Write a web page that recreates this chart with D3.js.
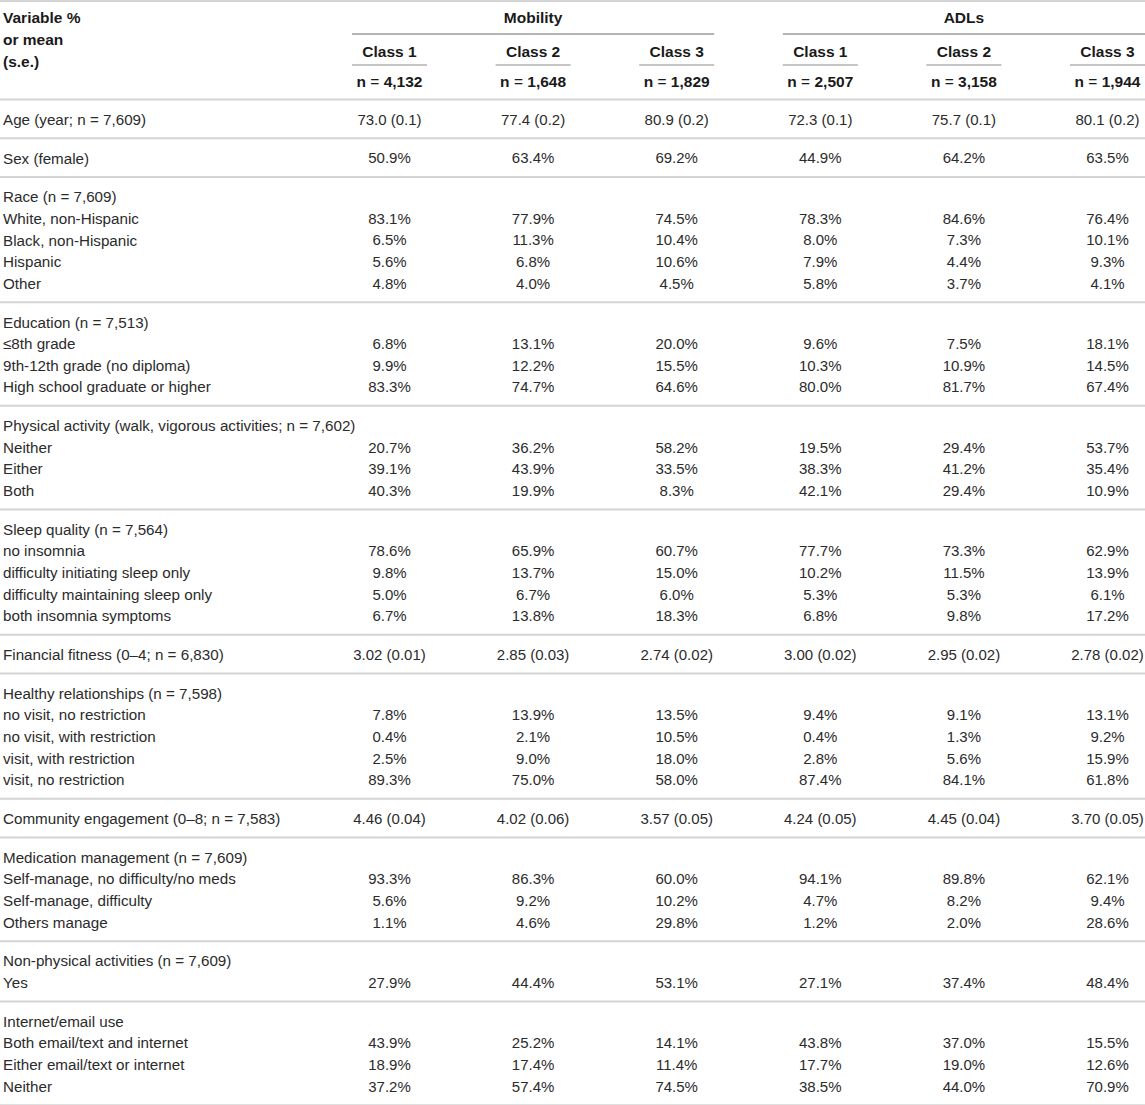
<!DOCTYPE html>
<html>
<head>
<meta charset="utf-8">
<script src="https://cdn.jsdelivr.net/npm/d3@7"></script>
<style>
  body { margin: 0; background: #fff; }
  svg text { font-family: "Liberation Sans", Arial, Helvetica, sans-serif; }
</style>
</head>
<body>
<div id="table"></div>
<script>
// header text
var stubHeader = ["Variable %", "or mean", "(s.e.)"];
var panels = ["Mobility", "ADLs"];
var classNames = ["Class 1", "Class 2", "Class 3"];
var classSizes = ["4,132", "1,648", "1,829", "2,507", "3,158", "1,944"];

// body rows: [label, Mobility c1, c2, c3, ADLs c1, c2, c3]; a row with only a label is a sub-heading
var age = [["Age (year; n = 7,609)", "73.0 (0.1)", "77.4 (0.2)", "80.9 (0.2)", "72.3 (0.1)", "75.7 (0.1)", "80.1 (0.2)"]];
var sex = [["Sex (female)", "50.9%", "63.4%", "69.2%", "44.9%", "64.2%", "63.5%"]];
var race = [
  ["Race (n = 7,609)"],
  ["White, non-Hispanic", "83.1%", "77.9%", "74.5%", "78.3%", "84.6%", "76.4%"],
  ["Black, non-Hispanic", "6.5%", "11.3%", "10.4%", "8.0%", "7.3%", "10.1%"],
  ["Hispanic", "5.6%", "6.8%", "10.6%", "7.9%", "4.4%", "9.3%"],
  ["Other", "4.8%", "4.0%", "4.5%", "5.8%", "3.7%", "4.1%"]
];
var education = [
  ["Education (n = 7,513)"],
  ["\u22648th grade", "6.8%", "13.1%", "20.0%", "9.6%", "7.5%", "18.1%"],
  ["9th-12th grade (no diploma)", "9.9%", "12.2%", "15.5%", "10.3%", "10.9%", "14.5%"],
  ["High school graduate or higher", "83.3%", "74.7%", "64.6%", "80.0%", "81.7%", "67.4%"]
];
var physical = [
  ["Physical activity (walk, vigorous activities; n = 7,602)"],
  ["Neither", "20.7%", "36.2%", "58.2%", "19.5%", "29.4%", "53.7%"],
  ["Either", "39.1%", "43.9%", "33.5%", "38.3%", "41.2%", "35.4%"],
  ["Both", "40.3%", "19.9%", "8.3%", "42.1%", "29.4%", "10.9%"]
];
var sleep = [
  ["Sleep quality (n = 7,564)"],
  ["no insomnia", "78.6%", "65.9%", "60.7%", "77.7%", "73.3%", "62.9%"],
  ["difficulty initiating sleep only", "9.8%", "13.7%", "15.0%", "10.2%", "11.5%", "13.9%"],
  ["difficulty maintaining sleep only", "5.0%", "6.7%", "6.0%", "5.3%", "5.3%", "6.1%"],
  ["both insomnia symptoms", "6.7%", "13.8%", "18.3%", "6.8%", "9.8%", "17.2%"]
];
var financial = [["Financial fitness (0\u20134; n = 6,830)", "3.02 (0.01)", "2.85 (0.03)", "2.74 (0.02)", "3.00 (0.02)", "2.95 (0.02)", "2.78 (0.02)"]];
var relationships = [
  ["Healthy relationships (n = 7,598)"],
  ["no visit, no restriction", "7.8%", "13.9%", "13.5%", "9.4%", "9.1%", "13.1%"],
  ["no visit, with restriction", "0.4%", "2.1%", "10.5%", "0.4%", "1.3%", "9.2%"],
  ["visit, with restriction", "2.5%", "9.0%", "18.0%", "2.8%", "5.6%", "15.9%"],
  ["visit, no restriction", "89.3%", "75.0%", "58.0%", "87.4%", "84.1%", "61.8%"]
];
var community = [["Community engagement (0\u20138; n = 7,583)", "4.46 (0.04)", "4.02 (0.06)", "3.57 (0.05)", "4.24 (0.05)", "4.45 (0.04)", "3.70 (0.05)"]];
var medication = [
  ["Medication management (n = 7,609)"],
  ["Self-manage, no difficulty/no meds", "93.3%", "86.3%", "60.0%", "94.1%", "89.8%", "62.1%"],
  ["Self-manage, difficulty", "5.6%", "9.2%", "10.2%", "4.7%", "8.2%", "9.4%"],
  ["Others manage", "1.1%", "4.6%", "29.8%", "1.2%", "2.0%", "28.6%"]
];
var nonPhysical = [
  ["Non-physical activities (n = 7,609)"],
  ["Yes", "27.9%", "44.4%", "53.1%", "27.1%", "37.4%", "48.4%"]
];
var internet = [
  ["Internet/email use"],
  ["Both email/text and internet", "43.9%", "25.2%", "14.1%", "43.8%", "37.0%", "15.5%"],
  ["Either email/text or internet", "18.9%", "17.4%", "11.4%", "17.7%", "19.0%", "12.6%"],
  ["Neither", "37.2%", "57.4%", "74.5%", "38.5%", "44.0%", "70.9%"]
];

var sections = [age, sex, race, education, physical, sleep, financial,
                relationships, community, medication, nonPhysical, internet];

// dimensions
var width = 1145, height = 1105;
var headerBottom = 99.5;
var rowStep = 21.65;   // spacing of lines inside a section
var padTop = 20, padBottom = 18.7;
var ruleColor = "#d4d4d4", textColor = "#2b2b2b";

// six value columns, evenly spaced
var x = d3.scaleLinear().domain([0, 5]).range([389.5, 1107.5]);
var halfRule = 37.5;

var svg = d3.select("#table").append("svg")
    .attr("width", width)
    .attr("height", height);

svg.append("rect").attr("width", width).attr("height", height).attr("fill", "#fff");

// top border
svg.append("line")
    .attr("x1", 0).attr("x2", width).attr("y1", 1).attr("y2", 1)
    .attr("stroke", ruleColor).attr("stroke-width", 2);

// ---- header ----
var head = svg.append("g").attr("font-weight", "bold").attr("fill", "#1a1a1a").attr("font-size", 15.5);

head.selectAll(".stub").data(stubHeader).enter().append("text")
    .attr("x", 3)
    .attr("y", function(d, i) { return 18 + i * 22; })
    .attr("dy", "0.35em")
    .text(function(d) { return d; });

panels.forEach(function(p, pi) {
    var left = x(pi * 3) - halfRule, right = Math.min(x(pi * 3 + 2) + halfRule, width);
    head.append("text")
        .attr("x", (left + right) / 2).attr("y", 18).attr("dy", "0.35em")
        .attr("text-anchor", "middle")
        .text(p);
    head.append("line")
        .attr("x1", left).attr("x2", right).attr("y1", 34).attr("y2", 34)
        .attr("stroke", "#6a6a6a").attr("stroke-width", 1.2);
});

d3.range(6).forEach(function(c) {
    head.append("text")
        .attr("x", x(c)).attr("y", 52).attr("dy", "0.35em")
        .attr("text-anchor", "middle")
        .text(classNames[c % 3]);
    head.append("line")
        .attr("x1", x(c) - halfRule).attr("x2", Math.min(x(c) + halfRule, width))
        .attr("y1", 65).attr("y2", 65)
        .attr("stroke", "#8a8a8a").attr("stroke-width", 1.2);
    var t = head.append("text")
        .attr("x", x(c)).attr("y", 82).attr("dy", "0.35em")
        .attr("text-anchor", "middle");
    t.append("tspan").text("n ");
    t.append("tspan").attr("font-weight", "normal").text("=");
    t.append("tspan").text(" " + classSizes[c]);
});

svg.append("line")
    .attr("x1", 0).attr("x2", width).attr("y1", headerBottom).attr("y2", headerBottom)
    .attr("stroke", ruleColor).attr("stroke-width", 2);

// ---- body ----
var body = svg.append("g").attr("fill", textColor).attr("font-size", 15);
var y = headerBottom;

sections.forEach(function(rows) {
    var first = y + padTop;
    rows.forEach(function(row, ri) {
        var ry = first + ri * rowStep;
        body.append("text")
            .attr("x", 3).attr("y", ry).attr("dy", "0.35em")
            .attr("font-size", 15.2)
            .text(row[0]);
        body.selectAll(null).data(row.slice(1)).enter().append("text")
            .attr("x", function(d, i) { return x(i); })
            .attr("y", ry).attr("dy", "0.35em")
            .attr("text-anchor", "middle")
            .text(function(d) { return d; });
    });
    y = first + (rows.length - 1) * rowStep + padBottom;
    svg.append("line")
        .attr("x1", 0).attr("x2", width).attr("y1", y).attr("y2", y)
        .attr("stroke", ruleColor).attr("stroke-width", 2);
});
</script>
</body>
</html>
